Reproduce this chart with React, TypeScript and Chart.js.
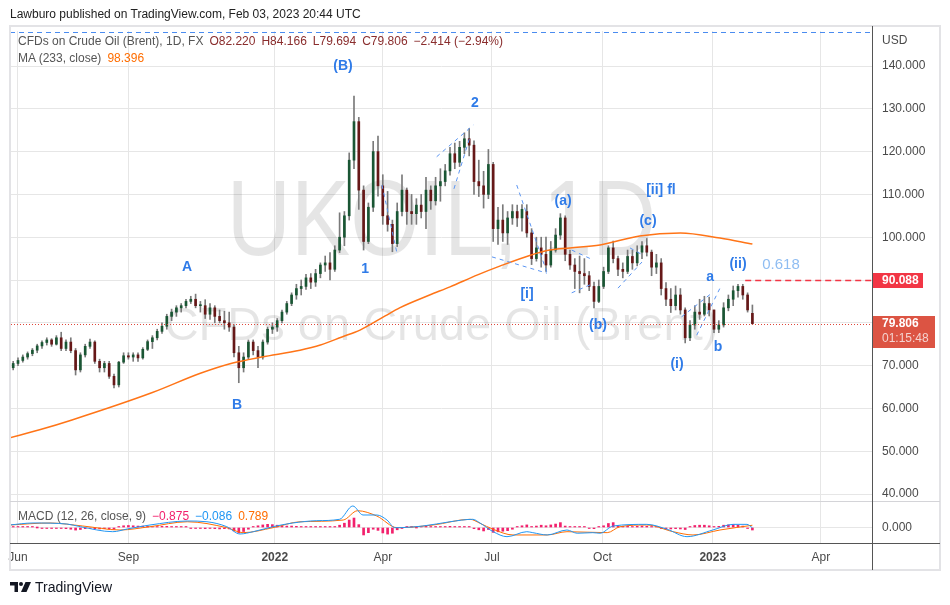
import React, { useEffect, useRef } from 'react';
import { Chart, registerables } from 'chart.js';

Chart.register(...registerables);

// ---------- axis categories (day index 0 = 2021-06-01) ----------
const monthTickDays = [0, 92, 214, 304, 395, 487, 579, 669];
const monthTickLabels = ['Jun', 'Sep', '2022', 'Apr', 'Jul', 'Oct', '2023', 'Apr'];
const priceTicks = [40, 50, 60, 70, 80, 90, 100, 110, 120, 130, 140];
const hiddenPriceTicks = [80, 90];

// candles: one every 4 calendar days starting at day -4
const candleStartDay = -4;
const candleStepDays = 4;
// [open, high, low, close]
const ohlc = [
  [69.5, 71, 69, 70.5], [70.5, 71.8, 70, 71.2], [71.2, 72.5, 70.8, 72], [72, 73.2, 71.5, 72.8],
  [72.8, 74, 72.3, 73.6], [73.6, 75, 73, 74.6], [74.6, 75.8, 74, 75.4], [75.4, 76.5, 74.8, 76],
  [76, 76.3, 74.5, 75], [75, 77, 74.8, 76.5], [76.5, 77.8, 73.5, 74], [74, 76, 73.5, 75.5],
  [75.5, 76.5, 73, 73.5], [73.5, 74, 67.8, 69], [69, 73, 68.5, 72.5], [72.5, 75, 72, 74.5],
  [74.5, 76.2, 74, 75.5], [75.5, 75.8, 70.5, 71], [71, 71.5, 68.5, 69.5], [69.5, 71, 68.5, 70.5],
  [70.5, 71, 67, 67.5], [67.5, 68, 64.8, 65.5], [65.5, 71, 65, 70.8], [70.8, 73, 70.5, 72.3],
  [72.3, 73, 71.5, 72], [72, 73, 71, 72.5], [72.5, 73, 71, 71.8], [71.8, 74.2, 71.5, 73.8],
  [73.8, 76, 73.5, 75.6], [75.6, 77, 74, 76.5], [76.5, 78.5, 76, 78], [78, 80, 77.5, 79.2],
  [79.2, 82, 78.5, 81.5], [81.5, 83.2, 80.5, 82.5], [82.5, 84, 81.5, 83.5], [83.5, 84.5, 82.5, 84],
  [84, 85.5, 83.5, 85], [85, 86.2, 84.5, 85.5], [85.5, 86.7, 83.5, 84], [84, 85, 82.5, 84],
  [84, 85.4, 81, 82], [82, 84.5, 80.8, 83.5], [83.5, 84, 80, 81.5], [81.5, 83, 80, 80.5],
  [80.5, 82.7, 78.5, 80], [80, 82.5, 78, 79], [79, 79.5, 72, 73], [73, 74.5, 66, 69.5],
  [69.5, 73, 68.5, 72], [72, 76, 71.5, 75.5], [75.5, 76, 72.5, 73.5], [73.5, 74.5, 69.5, 72],
  [72, 76, 71.5, 75.5], [75.5, 79, 75, 78.5], [78.5, 80, 77.5, 79], [79, 81, 78, 80.5],
  [80.5, 83, 80, 82.5], [82.5, 85, 82, 84.5], [84.5, 87, 84, 86.5], [86.5, 89, 85.5, 88],
  [88, 90, 86.5, 88.5], [88.5, 91.3, 87.8, 90.5], [90.5, 91.5, 88, 89.5], [89.5, 92.5, 88.5, 91.5],
  [91.5, 94, 90.5, 93.5], [93.5, 95.6, 92, 94], [94, 96.4, 90, 92.5], [92.5, 98, 92, 97],
  [97, 105.7, 96.4, 100], [100, 106, 98, 105], [105, 119.7, 104, 118], [118, 133, 116, 127],
  [127, 128, 106.5, 111], [111, 112, 97, 99], [99, 108, 98.5, 107], [107, 122.4, 106, 120],
  [120, 123.6, 109.6, 112], [112, 114.6, 103, 105], [105, 110.7, 101.4, 103], [103, 104, 96.6, 98.5],
  [98.5, 108, 97.8, 106], [106, 114.6, 105, 111], [111, 111.5, 103, 106], [106, 110, 103, 105.5],
  [105.5, 109, 103, 107.5], [107.5, 110, 104.5, 106], [106, 114, 102, 111], [111, 112, 106.5, 108.5],
  [108.5, 114, 107.5, 112], [112, 116, 108.4, 113], [113, 117, 112, 115.5], [115.5, 121, 114.5, 119.5],
  [119.5, 122, 116, 117.5], [117.5, 122.4, 116.5, 121], [121, 124.4, 119.5, 123], [123, 125.4, 119, 121.5],
  [121.5, 122.5, 110, 113], [113, 118, 109.5, 112], [112, 115.4, 106.8, 110], [110, 120.5, 109, 117],
  [117, 117.5, 99, 102], [102, 107, 98.3, 104], [104, 107.6, 99, 101], [101, 106, 98.3, 104.5],
  [104.5, 107.6, 103, 106], [106, 107.5, 102.5, 104.5], [104.5, 107.6, 101.4, 106.5], [106, 107.6, 100, 101],
  [101, 102, 93.6, 95], [95, 100, 94.4, 97.5], [97.5, 100, 93, 96], [96, 100, 92, 93.5],
  [93.5, 99, 93, 97], [97, 102, 96.5, 100.5], [100.5, 105.5, 99.5, 104.5], [104.5, 105, 94.5, 96],
  [96, 97, 92.5, 93.5], [93.5, 95, 88, 92], [92, 95.6, 87, 91.5], [91.5, 95, 89, 91],
  [91, 92, 87.5, 88.5], [88.5, 89.5, 83.5, 85], [85, 90, 84.7, 88.5], [88.5, 93, 88, 92],
  [92, 98, 91.5, 97.5], [97.5, 99.1, 94, 95], [95, 95.6, 91, 92.5], [92.5, 94, 90.5, 92],
  [92, 97, 91.5, 95.5], [95.5, 97, 92.5, 94], [94, 98, 93.3, 96.5], [96.5, 99, 95, 98],
  [98, 99.7, 95.6, 96.5], [96.5, 97, 91, 93], [93, 96, 91.5, 94], [94, 95, 86.5, 88],
  [88, 89.4, 84, 85.5], [85.5, 88, 82.4, 84], [84, 88.6, 83, 86.5], [86.5, 88, 82, 83],
  [83, 83.5, 75.3, 76.5], [76.5, 80.5, 75.8, 79.5], [79.5, 84, 78.5, 82.5], [82.5, 85.5, 80.8, 82],
  [82, 86.2, 81.6, 84.5], [84.5, 86, 81.6, 83], [83, 83, 77.7, 78.5], [78.5, 80.5, 77.7, 79.5],
  [79.5, 84.7, 79, 83.5], [83.5, 86.5, 82.8, 85.5], [85.5, 88.6, 84, 87.5], [87.5, 89, 86, 88.5],
  [88.5, 89, 85.5, 86.5], [86.5, 87, 82.5, 83], [82.22, 84.166, 79.694, 79.806],
];

// MA (233, close)
const maDays = [-7, 18, 45, 112, 152, 179, 203, 235, 252, 270, 285, 306, 318, 343, 360, 383, 402, 427, 443, 460, 485, 518, 552, 585, 612];
const maValues = [53.1, 55, 57.3, 63.7, 68.2, 70.6, 72, 73.6, 74.8, 76.7, 78.3, 81.6, 83.5, 86.5, 88.4, 91.2, 93.3, 95.8, 97, 97.5, 98.2, 100.3, 101, 99.8, 98.4];

// MACD (12, 26, close, 9)
const macdDays = [-7, 12.5, 41, 52, 79, 91, 110, 141, 157.5, 174, 185, 196, 212.5, 229, 249, 268, 279, 287.5, 299, 307.5, 314, 337.5, 360, 379, 385, 396, 407.5, 424, 429, 441, 457.5, 466, 479, 485, 496, 524, 541, 557.5, 579, 596, 607.5, 612];
const macdValues = [0.87, 1.57, 1.2, 0.28, -1.46, -0.52, 0.87, 2.26, 2.0, 0.28, -2.26, -1.46, 0.28, 1.57, 2.37, 2.86, 7.5, 4.36, 4.36, 2.6, -0.07, 0.52, 2.0, 2.86, 1.57, -1.46, -3.2, -1.46, -1.8, -2.6, -0.87, -2.0, -1.8, -2.0, 0.52, 1.1, -0.63, -3.2, -0.87, 1.1, 1.1, -0.086];
const signalDays = [-7, 26.7, 54, 85, 110, 141, 174, 187.5, 212.5, 235, 271, 283, 299, 316, 346, 376.7, 385, 396, 412.5, 441, 457.5, 491, 501.7, 524, 546, 562.5, 585, 612];
const signalValues = [0.87, 1.57, 0.52, -0.87, 0.28, 2.0, -0.07, -1.8, -0.07, 2.0, 2.6, 5.85, 4.0, -0.07, 0.87, 2.86, 1.46, -0.63, -2.6, -2.6, -1.46, -1.8, 0.28, 0.87, -1.46, -2.6, -0.87, 0.789];
// histogram, one per candle
const histValues = [
  0.2, 0.3, 0.2, 0.1, 0.1, 0, -0.1, -0.2, -0.1, -0.2, -0.3, -0.4, -0.6, -0.9, -0.7, -0.4, -0.3, -0.4, -0.5, -0.4,
  -0.5, -0.6, 0.3, 0.6, 0.7, 0.6, 0.5, 0.5, 0.4, 0.3, 0.3, 0.4, 0.4, 0.3, 0.2, 0.2, 0.1, -0.1, -0.2, -0.3,
  -0.4, -0.3, -0.4, -0.5, -0.4, -0.5, -1.2, -1.9, -1.4, -0.6, 0.3, 0.6, 0.9, 1.1, 1.0, 0.8, 0.6, 0.5, 0.5, 0.4,
  0.3, 0.3, 0.2, 0.2, 0.3, 0.2, 0.1, 0.3, 0.8, 1.5, 2.6, 3.3, 1.0, -2.6, -1.8, -0.6, -1.0, -1.9, -2.3, -2.0,
  -0.8, -0.2, 0.2, 0.1, 0, 0.3, 0.5, 0.3, 0.2, 0.1, 0.2, 0.4, 0.3, 0.3, 0.2, 0.3, -0.4, -0.8, -1.2, -0.7,
  -1.7, -1.5, -1.3, -1.1, -0.6, 0.2, 0.6, 0.9, 0.3, 0.5, 0.8, 0.6, 0.9, 1.2, 1.7, 0.5, 0.1, 0.2, 0.3, 0.1,
  -0.2, -0.4, 0.1, 0.6, 1.4, 1.7, 0.6, 0.4, 0.5, 0.3, 0.4, 0.5, 0.4, 0.2, 0.1, -0.3, -0.6, -0.5, -0.4, -0.5,
  -0.7, 0.2, 0.7, 0.8, 0.8, 0.6, 0.3, 0.4, 0.8, 0.9, 1.0, 0.8, 0.5, -0.2, -0.875,
];

// Elliott-wave annotations: [text, day, price]
const waveLabels: [string, number, number][] = [
  ['(B)', 270.8, 140], ['A', 140.8, 93], ['B', 182.5, 60.8], ['1', 289.2, 92.6], ['2', 380.8, 131.4],
  ['[i]', 424.2, 86.7], ['(a)', 454.2, 108.5], ['(b)', 483.3, 79.5], ['[ii] fl', 535.8, 111],
  ['(c)', 525, 103.8], ['(i)', 549.2, 70.4], ['a', 576.7, 90.7], ['b', 583.3, 74.3], ['(ii)', 600, 93.7],
];
const fibLabel: [string, number, number] = ['0.618', 635.8, 93.5];
// dashed trend drawings: [day1, price1, day2, price2]
const trendLines = [
  [348.9, 118.8, 379.4, 126.2], [363.3, 111.3, 376.7, 123.5], [303.3, 112.2, 315.8, 96.3],
  [415.6, 112.2, 440.6, 91.9], [395, 95.4, 440.8, 91.6], [461.4, 97.0, 479.2, 94.7],
  [461.4, 87.0, 479.4, 89.2], [500, 88.1, 520, 94.2], [510, 97.5, 519, 96.1],
  [553, 81.4, 578, 86.9], [565.6, 77.1, 585, 88.1],
];
const lastClose = 79.806;
const fibLevel = 90.088;
const fibLineStartDay = 606;
const topDashedPrice = 148;

// ---------- styling ----------
const FONT = '"Liberation Sans", Arial, sans-serif';
const GRID = '#e6e6e6';
const TXT = '#4a4a4a';
const UP = '#1a5634';
const DOWN = '#661818';
const WICK = '#7a7a7a';
const BLUE = '#2f7be8';
const X_MIN = -5.83;
const X_MAX = 711.67;
const Y_MIN = 38.131;
const Y_MAX = 148.178;
const M_MIN = -5.4;
const M_MAX = 8.885;

const candleDays = ohlc.map((_, i) => candleStartDay + i * candleStepDays);

function setMonthTicks(s: any) {
  s.ticks = monthTickDays.map((v) => ({ value: v }));
}

const pricePlugin = {
  id: 'pricePlugin',
  beforeDatasetsDraw(chart: any) {
    const { ctx, chartArea: a } = chart;
    const cx = (a.left + a.right) / 2;
    const cy = (a.top + a.bottom) / 2;
    ctx.save();
    ctx.fillStyle = 'rgba(0,0,0,0.10)';
    ctx.textAlign = 'center';
    ctx.textBaseline = 'alphabetic';
    ctx.font = `107px ${FONT}`;
    ctx.translate(cx, cy - 12);
    ctx.scale(0.83, 1);
    ctx.fillText('UKOIL, 1D', 0, 0);
    ctx.restore();
    ctx.save();
    ctx.fillStyle = 'rgba(0,0,0,0.10)';
    ctx.textAlign = 'center';
    ctx.font = `47px ${FONT}`;
    ctx.fillText('CFDs on Crude Oil (Brent)', cx, cy + 73);
    ctx.restore();
  },
  afterDatasetsDraw(chart: any) {
    const { ctx, chartArea: a, scales } = chart;
    const x = scales.x;
    const y = scales.y;
    ctx.save();
    ctx.strokeStyle = '#4a8cf0';
    ctx.lineWidth = 1;
    ctx.setLineDash([5, 4]);
    const ty = Math.round(y.getPixelForValue(topDashedPrice)) + 0.5;
    ctx.beginPath();
    ctx.moveTo(a.left - 1, ty);
    ctx.lineTo(a.right, ty);
    ctx.stroke();
    ctx.strokeStyle = '#5b95f2';
    ctx.setLineDash([4, 4]);
    trendLines.forEach((l) => {
      ctx.beginPath();
      ctx.moveTo(x.getPixelForValue(l[0]), y.getPixelForValue(l[1]));
      ctx.lineTo(x.getPixelForValue(l[2]), y.getPixelForValue(l[3]));
      ctx.stroke();
    });
    ctx.strokeStyle = '#e0463a';
    ctx.setLineDash([1, 2]);
    const ly = Math.round(y.getPixelForValue(lastClose)) + 0.5;
    ctx.beginPath();
    ctx.moveTo(a.left, ly);
    ctx.lineTo(a.right, ly);
    ctx.stroke();
    ctx.strokeStyle = '#f23645';
    ctx.lineWidth = 1.5;
    ctx.setLineDash([6, 4]);
    const fy = Math.round(y.getPixelForValue(fibLevel)) + 0.5;
    ctx.beginPath();
    ctx.moveTo(x.getPixelForValue(fibLineStartDay), fy);
    ctx.lineTo(a.right, fy);
    ctx.stroke();
    ctx.setLineDash([]);
    ctx.fillStyle = BLUE;
    ctx.textAlign = 'center';
    ctx.textBaseline = 'middle';
    ctx.font = `bold 14px ${FONT}`;
    waveLabels.forEach(([t, d, p]) => {
      ctx.fillText(t, x.getPixelForValue(d), y.getPixelForValue(p));
    });
    ctx.fillStyle = '#8fbdf2';
    ctx.font = `15px ${FONT}`;
    ctx.fillText(fibLabel[0], x.getPixelForValue(fibLabel[1]), y.getPixelForValue(fibLabel[2]));
    ctx.restore();
  },
  afterDraw(chart: any) {
    const { ctx, chartArea: a, scales } = chart;
    const y = scales.y;
    ctx.save();
    ctx.fillStyle = TXT;
    ctx.font = `12px ${FONT}`;
    ctx.textBaseline = 'middle';
    ctx.textAlign = 'left';
    ctx.fillText('USD', a.right + 10, 41);
    const fy = y.getPixelForValue(fibLevel);
    ctx.fillStyle = '#f23645';
    ctx.fillRect(a.right, Math.round(fy) - 7, 51, 15);
    ctx.fillStyle = '#ffffff';
    ctx.font = `bold 12px ${FONT}`;
    ctx.fillText(fibLevel.toFixed(3), a.right + 10, Math.round(fy) + 0.5);
    const ly = y.getPixelForValue(lastClose);
    ctx.fillStyle = '#dc5443';
    ctx.fillRect(a.right, Math.round(ly) - 8, 63, 32);
    ctx.fillStyle = '#ffffff';
    ctx.fillText(lastClose.toFixed(3), a.right + 10, Math.round(ly));
    ctx.fillStyle = '#f4d3cf';
    ctx.font = `12px ${FONT}`;
    ctx.fillText('01:15:48', a.right + 10, Math.round(ly) + 15);
    ctx.restore();
  },
};

const framePlugin = {
  id: 'framePlugin',
  afterDraw(chart: any) {
    const { ctx, chartArea: a } = chart;
    ctx.save();
    ctx.strokeStyle = '#e3e3e6';
    ctx.lineWidth = 2;
    ctx.strokeRect(10, 26, 930, 544);
    ctx.lineWidth = 1;
    ctx.strokeStyle = '#d4d4d8';
    ctx.beginPath();
    ctx.moveTo(10, a.top - 0.5);
    ctx.lineTo(940, a.top - 0.5);
    ctx.stroke();
    ctx.strokeStyle = '#555555';
    ctx.beginPath();
    ctx.moveTo(a.right + 0.5, 26);
    ctx.lineTo(a.right + 0.5, 570);
    ctx.moveTo(10, a.bottom + 0.5);
    ctx.lineTo(940, a.bottom + 0.5);
    ctx.stroke();
    ctx.restore();
  },
};

export default function App() {
  const priceRef = useRef<HTMLCanvasElement>(null);
  const macdRef = useRef<HTMLCanvasElement>(null);

  useEffect(() => {
    const wickData = ohlc.map((c, i) => ({ x: candleDays[i], y: [c[2], c[1]] }));
    const bodyData = ohlc.map((c, i) => ({ x: candleDays[i], y: [c[0], c[3]] }));
    const bodyColors = ohlc.map((c) => (c[3] >= c[0] ? UP : DOWN));
    const maData = maDays.map((d, i) => ({ x: d, y: maValues[i] }));

    const c1 = new Chart(priceRef.current as HTMLCanvasElement, {
      type: 'bar',
      data: {
        datasets: [
          {
            type: 'line', data: maData, borderColor: '#ff7417', borderWidth: 1.5, pointRadius: 0,
            cubicInterpolationMode: 'monotone', order: 0,
          } as any,
          {
            data: bodyData as any, backgroundColor: bodyColors, barThickness: 2, minBarLength: 1,
            grouped: false, order: 1,
          },
          {
            data: wickData as any, backgroundColor: WICK, barThickness: 1, grouped: false, order: 2,
          },
        ],
      },
      options: {
        animation: false,
        responsive: false,
        devicePixelRatio: 1,
        layout: { padding: { left: 11, top: 31, right: 10, bottom: 103 } },
        plugins: { legend: { display: false }, tooltip: { enabled: false } },
        scales: {
          x: {
            type: 'linear', min: X_MIN, max: X_MAX, offset: false,
            grid: { color: GRID, offset: false, drawTicks: false },
            border: { display: false },
            ticks: { display: false },
            afterBuildTicks: setMonthTicks,
            afterFit: (s: any) => { s.height = 0; },
          },
          y: {
            type: 'linear', position: 'right', min: Y_MIN, max: Y_MAX,
            grid: { color: GRID, drawTicks: false },
            border: { display: false },
            ticks: {
              padding: 10, color: TXT, font: { family: FONT, size: 12 },
              callback: (v: any) => (hiddenPriceTicks.includes(Number(v)) ? '' : Number(v).toFixed(3)),
            },
            afterBuildTicks: (s: any) => { s.ticks = priceTicks.map((v) => ({ value: v })); },
            afterFit: (s: any) => { s.width = 68; },
          },
        },
      } as any,
      plugins: [pricePlugin],
    });

    const histData = histValues.map((v, i) => ({ x: candleDays[i], y: v }));
    const macdData = macdDays.map((d, i) => ({ x: d, y: macdValues[i] }));
    const sigData = signalDays.map((d, i) => ({ x: d, y: signalValues[i] }));

    const c2 = new Chart(macdRef.current as HTMLCanvasElement, {
      type: 'bar',
      data: {
        datasets: [
          {
            type: 'line', data: macdData, borderColor: '#2196f3', borderWidth: 1, pointRadius: 0,
            cubicInterpolationMode: 'monotone', order: 0,
          } as any,
          {
            type: 'line', data: sigData, borderColor: '#ff6d00', borderWidth: 1, pointRadius: 0,
            cubicInterpolationMode: 'monotone', order: 1,
          } as any,
          {
            data: histData as any, backgroundColor: '#f2206c', barThickness: 2, minBarLength: 1,
            grouped: false, order: 2,
          },
        ],
      },
      options: {
        animation: false,
        responsive: false,
        devicePixelRatio: 1,
        layout: { padding: { left: 11, top: 502, right: 10, bottom: 35 } },
        plugins: { legend: { display: false }, tooltip: { enabled: false } },
        scales: {
          x: {
            type: 'linear', min: X_MIN, max: X_MAX, offset: false,
            grid: { color: GRID, offset: false, drawTicks: false },
            border: { display: false },
            ticks: {
              autoSkip: false, maxRotation: 0, padding: 7, color: TXT,
              font: (ctx: any) => {
                const i = ctx.tick ? monthTickDays.indexOf(ctx.tick.value) : -1;
                const isYear = i >= 0 && /^\d{4}$/.test(monthTickLabels[i]);
                return { family: FONT, size: 12, weight: isYear ? 'bold' : 'normal' };
              },
              callback: (v: any) => {
                const i = monthTickDays.indexOf(Number(v));
                return i >= 0 ? monthTickLabels[i] : '';
              },
            },
            afterBuildTicks: setMonthTicks,
            afterFit: (s: any) => { s.height = 27; },
          },
          y: {
            type: 'linear', position: 'right', min: M_MIN, max: M_MAX,
            grid: { color: GRID, drawTicks: false },
            border: { display: false },
            ticks: {
              padding: 10, color: TXT, font: { family: FONT, size: 12 },
              callback: (v: any) => Number(v).toFixed(3),
            },
            afterBuildTicks: (s: any) => { s.ticks = [{ value: 0 }]; },
            afterFit: (s: any) => { s.width = 68; },
          },
        },
      } as any,
      plugins: [framePlugin],
    });

    return () => {
      c1.destroy();
      c2.destroy();
    };
  }, []);

  const legendGrey = '#555555';
  const valRed = '#8a2d2d';
  const gap = { marginLeft: 6 };

  return (
    <div
      style={{
        position: 'absolute', left: 0, top: 0, width: 950, height: 605, background: '#ffffff',
        overflow: 'hidden', fontFamily: FONT,
      }}
    >
      <canvas ref={priceRef} width={950} height={605} style={{ position: 'absolute', left: 0, top: 0, width: 950, height: 605 }} />
      <canvas ref={macdRef} width={950} height={605} style={{ position: 'absolute', left: 0, top: 0, width: 950, height: 605 }} />
      <div style={{ position: 'absolute', left: 10, top: 7, fontSize: 12, lineHeight: '15px', color: '#222', whiteSpace: 'nowrap' }}>
        Lawburo published on TradingView.com, Feb 03, 2023 20:44 UTC
      </div>
      <div style={{ position: 'absolute', left: 18, top: 34, fontSize: 12, lineHeight: '15px', color: legendGrey, whiteSpace: 'nowrap' }}>
        <span>CFDs on Crude Oil (Brent), 1D, FX</span>
        <span style={{ ...gap, color: valRed }}>O82.220</span>
        <span style={{ ...gap, color: valRed }}>H84.166</span>
        <span style={{ ...gap, color: valRed }}>L79.694</span>
        <span style={{ ...gap, color: valRed }}>C79.806</span>
        <span style={{ ...gap, color: valRed }}>−2.414 (−2.94%)</span>
      </div>
      <div style={{ position: 'absolute', left: 18, top: 51, fontSize: 12, lineHeight: '15px', color: legendGrey, whiteSpace: 'nowrap' }}>
        <span>MA (233, close)</span>
        <span style={{ ...gap, color: '#ff6d00' }}>98.396</span>
      </div>
      <div style={{ position: 'absolute', left: 18, top: 509, fontSize: 12, lineHeight: '15px', color: legendGrey, whiteSpace: 'nowrap' }}>
        <span>MACD (12, 26, close, 9)</span>
        <span style={{ ...gap, color: '#f2206c' }}>−0.875</span>
        <span style={{ ...gap, color: '#2196f3' }}>−0.086</span>
        <span style={{ ...gap, color: '#ff6d00' }}>0.789</span>
      </div>
      <div style={{ position: 'absolute', left: 10, top: 579, height: 16, display: 'flex', alignItems: 'center', whiteSpace: 'nowrap' }}>
        <svg width="21" height="10" viewBox="0 0 21 10" style={{ display: 'block' }}>
          <path d="M0 0H8V10H4.5V3.5H0Z" fill="#131722" />
          <circle cx="11" cy="2" r="2" fill="#131722" />
          <path d="M15.5 0H21L16.5 10H11Z" fill="#131722" />
        </svg>
        <span style={{ marginLeft: 4, fontSize: 14, color: '#131722' }}>TradingView</span>
      </div>
    </div>
  );
}
